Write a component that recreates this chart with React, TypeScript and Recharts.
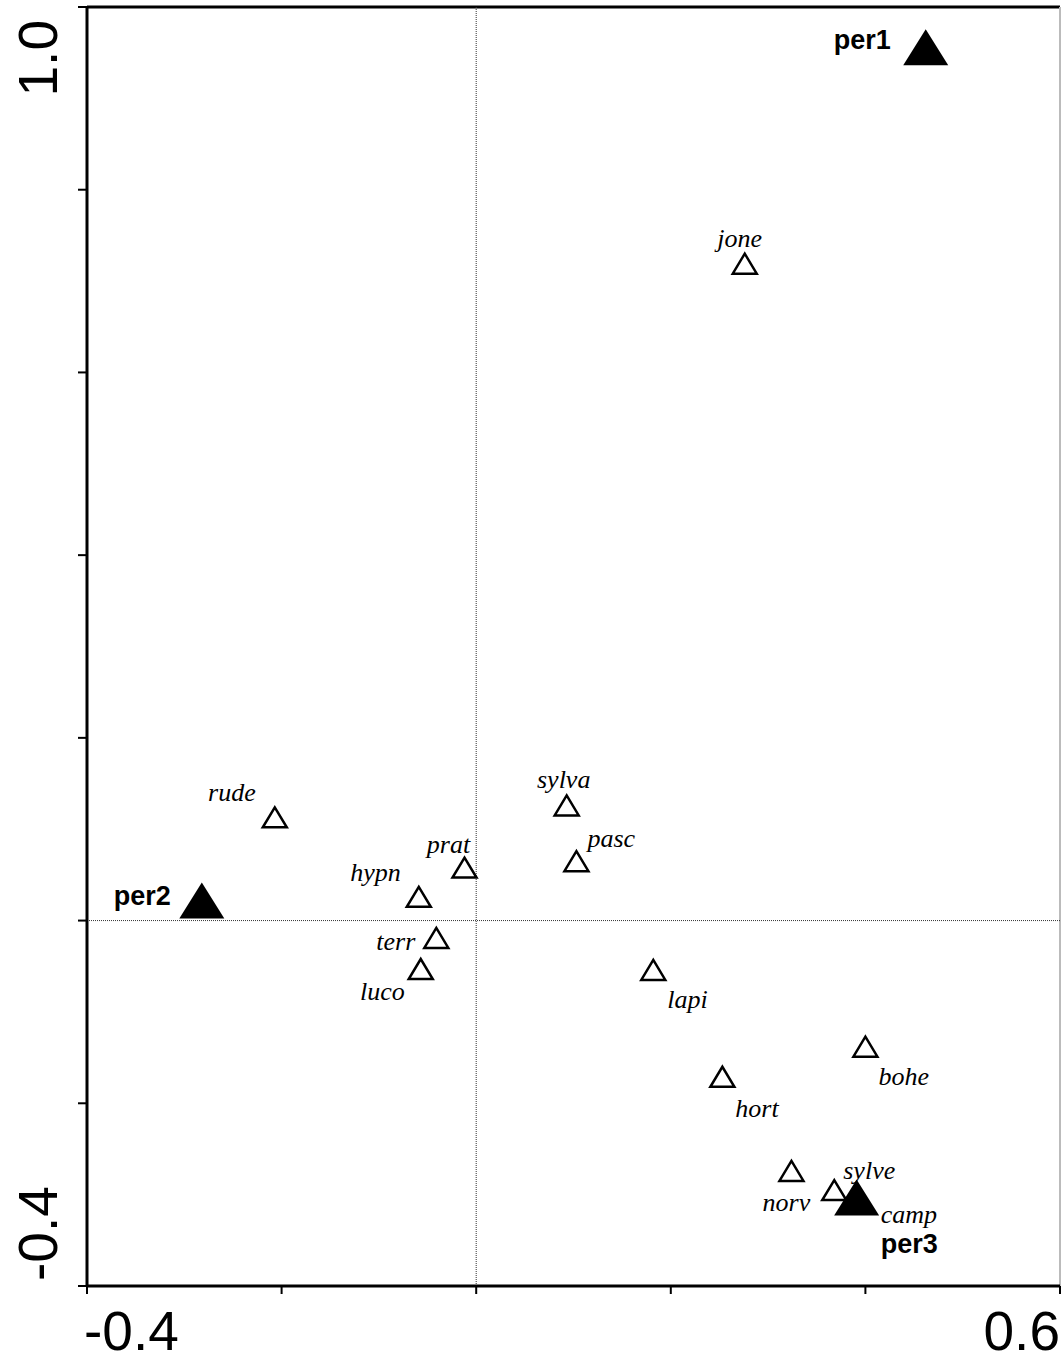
import {
  ReferenceLine,
  Scatter,
  ScatterChart,
  XAxis,
  YAxis,
} from 'recharts';

// species scores (open triangles)
const speciesNames = ['jone', 'rude', 'sylva', 'pasc', 'prat', 'hypn', 'terr', 'luco', 'lapi', 'bohe', 'hort', 'norv', 'sylve', 'camp'];
const speciesX = [0.276, -0.207, 0.093, 0.103, -0.012, -0.059, -0.041, -0.057, 0.182, 0.4, 0.253, 0.324, 0.368, 0.391];
const speciesY = [0.719, 0.113, 0.126, 0.065, 0.058, 0.026, -0.019, -0.053, -0.054, -0.138, -0.171, -0.274, -0.295, -0.300];

// period centroids (filled triangles)
const periodNames = ['per1', 'per2', 'per3'];
const periodX = [0.462, -0.282, 0.391];
const periodY = [0.956, 0.022, -0.303];

const xTicks = [-0.4, -0.2, 0, 0.2, 0.4, 0.6];
const yTicks = [-0.4, -0.2, 0, 0.2, 0.4, 0.6, 0.8, 1.0];

type Anchor = 'start' | 'middle' | 'end';

// label placement relative to the marker: [dx, dy(baseline), anchor]
const labelPos: Record<string, [number, number, Anchor]> = {
  jone: [-5, -17, 'middle'],
  rude: [-19, -16, 'end'],
  sylva: [-3, -17, 'middle'],
  pasc: [11, -14, 'start'],
  prat: [-16, -15, 'middle'],
  hypn: [-18, -16, 'end'],
  terr: [-21, 12, 'end'],
  luco: [-16, 31, 'end'],
  lapi: [14, 38, 'start'],
  bohe: [13, 38, 'start'],
  hort: [13, 40, 'start'],
  norv: [-5, 40, 'middle'],
  sylve: [9, -11, 'start'],
  camp: [24, 28, 'start'],
  per1: [-35, 2, 'end'],
  per2: [-31, 5, 'end'],
  per3: [24, 56, 'start'],
};

const speciesData = speciesNames.map((name, i) => ({ name, x: speciesX[i], y: speciesY[i] }));
const periodData = periodNames.map((name, i) => ({ name, x: periodX[i], y: periodY[i] }));

function SpeciesShape(props: any) {
  const { cx, cy, payload } = props;
  const [dx, dy, anchor] = labelPos[payload.name];
  const w = 12;
  const h = 10;
  return (
    <g>
      <polygon
        points={`${cx - w},${cy + h} ${cx + w},${cy + h} ${cx},${cy - h}`}
        fill="#fff"
        stroke="#000"
        strokeWidth={2.5}
        strokeLinejoin="miter"
      />
      <text
        x={cx + dx}
        y={cy + dy}
        textAnchor={anchor}
        fontFamily="'Liberation Serif', 'Times New Roman', serif"
        fontStyle="italic"
        fontSize={26}
        fill="#000"
      >
        {payload.name}
      </text>
    </g>
  );
}

function PeriodShape(props: any) {
  const { cx, cy, payload } = props;
  const [dx, dy, anchor] = labelPos[payload.name];
  const w = 22.5;
  const h = 18;
  return (
    <g>
      <polygon points={`${cx - w},${cy + h} ${cx + w},${cy + h} ${cx},${cy - h}`} fill="#000" />
      <text
        x={cx + dx}
        y={cy + dy}
        textAnchor={anchor}
        fontFamily="'Liberation Sans', Arial, sans-serif"
        fontWeight="bold"
        fontSize={27}
        fill="#000"
      >
        {payload.name}
      </text>
    </g>
  );
}

const tickFont = "'Liberation Sans', Arial, sans-serif";

function XTick(props: any) {
  const { x, y, payload } = props;
  const v = payload.value;
  if (v !== -0.4 && v !== 0.6) return <g />;
  const first = v === -0.4;
  return (
    <text
      x={first ? x - 3 : x}
      y={y + 54}
      textAnchor={first ? 'start' : 'end'}
      fontFamily={tickFont}
      fontSize={55}
      fill="#000"
    >
      {v.toFixed(1)}
    </text>
  );
}

function YTick(props: any) {
  const { x, y, payload } = props;
  const v = payload.value;
  if (v !== -0.4 && v !== 1.0) return <g />;
  const top = v === 1.0;
  const tx = x - 19;
  const ty = top ? y + 13 : y - 5;
  return (
    <text
      x={tx}
      y={ty}
      transform={`rotate(-90 ${tx} ${ty})`}
      textAnchor={top ? 'end' : 'start'}
      fontFamily={tickFont}
      fontSize={55}
      fill="#000"
    >
      {v.toFixed(1)}
    </text>
  );
}

export default function App() {
  return (
    <div style={{ position: 'absolute', left: 0, top: 0, background: '#fff' }}>
      <ScatterChart width={1061} height={1358} margin={{ top: 7, right: 1, bottom: 0, left: 0 }}>
        <XAxis
          type="number"
          dataKey="x"
          domain={[-0.4, 0.6]}
          ticks={xTicks}
          interval={0}
          height={72}
          tickSize={8}
          tickMargin={2}
          tick={<XTick />}
          axisLine={{ stroke: '#000', strokeWidth: 3 }}
          tickLine={{ stroke: '#000', strokeWidth: 2 }}
          allowDataOverflow
        />
        <YAxis
          type="number"
          dataKey="y"
          domain={[-0.4, 1.0]}
          ticks={yTicks}
          interval={0}
          width={87}
          tickSize={9}
          tickMargin={2}
          tick={<YTick />}
          axisLine={{ stroke: '#000', strokeWidth: 3 }}
          tickLine={{ stroke: '#000', strokeWidth: 2 }}
          allowDataOverflow
        />
        <ReferenceLine y={1.0} stroke="#000" strokeWidth={3} />
        <ReferenceLine x={0.6} stroke="#bbb" strokeWidth={2} />
        <ReferenceLine x={0} stroke="#333" strokeWidth={1} strokeDasharray="1 1" />
        <ReferenceLine y={0} stroke="#333" strokeWidth={1} strokeDasharray="1 1" />
        <Scatter data={speciesData} shape={<SpeciesShape />} isAnimationActive={false} />
        <Scatter data={periodData} shape={<PeriodShape />} isAnimationActive={false} />
      </ScatterChart>
    </div>
  );
}
